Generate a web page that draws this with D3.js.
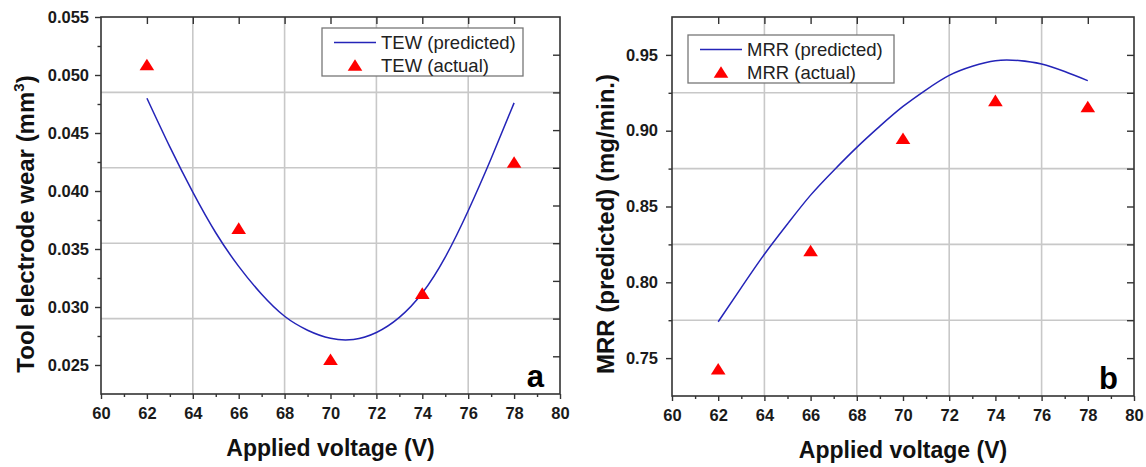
<!DOCTYPE html>
<html>
<head>
<meta charset="utf-8">
<script src="https://cdn.jsdelivr.net/npm/d3@7"></script>
<style>
  body { margin: 0; background: #fff; }
  svg { display: block; font-family: "Liberation Sans", Arial, sans-serif; }
</style>
</head>
<body>
<svg id="chart" width="1146" height="467"></svg>
<script>
// data
const voltage = [62, 66, 70, 74, 78]
const tewActual = [0.0509, 0.0368, 0.0255, 0.0312, 0.0425]
const mrrActual = [0.743, 0.821, 0.895, 0.920, 0.916]

const curveVoltage = [62, 63, 64, 65, 66, 67, 68, 69, 70, 71, 72, 73, 74, 75, 76, 77, 78]
const tewPredicted = [0.0480, 0.0438, 0.0399, 0.0364, 0.0335, 0.0311, 0.0292, 0.0280, 0.0273,
    0.0272, 0.0278, 0.0291, 0.0312, 0.0343, 0.0383, 0.0428, 0.0476]
const mrrPredicted = [0.774, 0.7965, 0.8185, 0.8385, 0.8575, 0.8738, 0.889, 0.903, 0.916,
    0.927, 0.9365, 0.9425, 0.9462, 0.9463, 0.944, 0.939, 0.933]

const xTicks = [60, 62, 64, 66, 68, 70, 72, 74, 76, 78, 80]
const tewTicks = [0.025, 0.030, 0.035, 0.040, 0.045, 0.050, 0.055]
const mrrTicks = [0.75, 0.80, 0.85, 0.90, 0.95]

const svg = d3.select('#chart')
const BLUE = '#2424b8'
const RED = '#ff0000'
const AXIS = '#333'
const GRID = '#c8c8c8'
const FONT = '"Liberation Sans", Arial, sans-serif'

// triangle marker, centred on its box
const tri = 'M0,-5.8L7.3,5.8L-7.3,5.8Z'

function drawPanel(o) {
    const g = svg.append('g')
    const x = d3.scaleLinear().domain([60, 80]).range([o.left, o.right])
    const y = d3.scaleLinear().domain(o.yDomain).range([o.bottom, o.top])
    const [lo, hi] = o.yDomain

    // grid lines (5 divisions of each axis)
    const gx = d3.range(1, 5).map(k => 60 + k * 4)
    const gy = d3.range(1, 5).map(k => lo + k * (hi - lo) / 5)
    g.selectAll('.gx').data(gx).enter().append('line')
        .attr('x1', d => x(d)).attr('x2', d => x(d))
        .attr('y1', o.top).attr('y2', o.bottom)
        .attr('stroke', GRID).attr('stroke-width', 1.6)
    g.selectAll('.gy').data(gy).enter().append('line')
        .attr('x1', o.left).attr('x2', o.right)
        .attr('y1', d => y(d)).attr('y2', d => y(d))
        .attr('stroke', GRID).attr('stroke-width', 1.6)

    // bottom axis
    const minorX = d3.range(61, 80, 2)
    const bx = g.append('g').attr('transform', 'translate(0,' + o.bottom + ')')
    bx.call(d3.axisBottom(x).tickValues(xTicks).tickSize(5).tickSizeOuter(0).tickPadding(8)
        .tickFormat(d3.format('d')))
    bx.append('g').call(d3.axisBottom(x).tickValues(minorX).tickSize(3).tickSizeOuter(0).tickFormat(''))

    // left axis
    const ly = g.append('g').attr('transform', 'translate(' + o.left + ',0)')
    ly.call(d3.axisLeft(y).tickValues(o.yTicks).tickSize(6).tickSizeOuter(0).tickPadding(o.pad)
        .tickFormat(d3.format(o.fmt)))
    ly.append('g').call(d3.axisLeft(y).tickValues(o.minor).tickSize(3.5).tickSizeOuter(0).tickFormat(''))

    // top axis, inward ticks
    g.append('g').attr('transform', 'translate(0,' + o.top + ')')
        .call(d3.axisBottom(x).tickValues(xTicks.slice(1, -1)).tickSize(7).tickSizeOuter(0).tickFormat(''))

    // right axis, inward ticks
    g.append('g').attr('transform', 'translate(' + o.right + ',0)')
        .call(d3.axisLeft(y).tickValues(d3.range(1, 10).map(k => lo + k * (hi - lo) / 10))
            .tickSize(7).tickSizeOuter(0).tickFormat(''))

    g.selectAll('.domain').remove()
    g.selectAll('.tick line').attr('stroke', AXIS).attr('stroke-width', 1.4)
    g.selectAll('g').attr('font-family', FONT).attr('font-size', 16).attr('font-weight', 'bold')
    g.selectAll('.tick text')
        .style('font-family', FONT).style('font-size', '16.5px').style('font-weight', '700')
        .style('fill', '#1a1a1a')

    // frame
    g.append('rect')
        .attr('x', o.left).attr('y', o.top)
        .attr('width', o.right - o.left).attr('height', o.bottom - o.top)
        .attr('fill', 'none').attr('stroke', AXIS).attr('stroke-width', 1.6)

    // predicted curve
    const pts = curveVoltage.map((v, i) => ({ v: v, y: o.predicted[i] }))
    g.append('path')
        .datum(pts)
        .attr('fill', 'none')
        .attr('stroke', BLUE)
        .attr('stroke-width', 1.5)
        .attr('d', d3.line().curve(d3.curveNatural)
            .x(d => x(d.v))
            .y(d => y(d.y)))

    // actual points
    g.selectAll('.pt').data(voltage.map((v, i) => ({ v: v, y: o.actual[i] })))
        .enter().append('path')
        .attr('d', tri).attr('fill', RED)
        .attr('transform', d => 'translate(' + x(d.v) + ',' + y(d.y) + ')')

    // legend
    const lg = g.append('g').attr('transform', 'translate(' + o.legend[0] + ',' + o.legend[1] + ')')
        .attr('font-weight', 'normal')
    lg.append('rect').attr('x', 0).attr('y', 0).attr('width', o.legendW).attr('height', 48)
        .attr('fill', '#fff').attr('stroke', '#777').attr('stroke-width', 1.3)
    lg.append('line').attr('x1', 12).attr('x2', 54).attr('y1', 14.5).attr('y2', 14.5)
        .attr('stroke', BLUE).attr('stroke-width', 1.5)
    lg.append('path').attr('d', tri).attr('fill', RED).attr('transform', 'translate(33,37)')
    lg.append('text').attr('x', 59).attr('y', 21).attr('font-size', 18.5).attr('fill', '#222')
        .text(o.name + ' (predicted)')
    lg.append('text').attr('x', 59).attr('y', 43.5).attr('font-size', 18.5).attr('fill', '#222')
        .text(o.name + ' (actual)')

    // axis titles
    g.append('text')
        .attr('x', (o.left + o.right) / 2).attr('y', o.bottom + 62)
        .attr('text-anchor', 'middle').attr('font-size', 23).attr('font-weight', 'bold').attr('fill', '#111')
        .text('Applied voltage (V)')
    const yt = g.append('text')
        .attr('transform', 'translate(' + o.yTitleX + ',224) rotate(-90)')
        .attr('text-anchor', 'middle').attr('font-size', 24).attr('font-weight', 'bold').attr('fill', '#111')
    o.yTitle(yt)

    // panel letter
    g.append('text')
        .attr('x', o.right - 16).attr('y', o.bottom - 7)
        .attr('text-anchor', 'end').attr('font-size', 31).attr('font-weight', 'bold').attr('fill', '#000')
        .text(o.letter)
}

drawPanel({
    left: 101, right: 560, top: 17, bottom: 394,
    yDomain: [0.0225, 0.055],
    yTicks: tewTicks,
    minor: [0.0275, 0.0325, 0.0375, 0.0425, 0.0475, 0.0525],
    fmt: '.3f', pad: 6,
    predicted: tewPredicted, actual: tewActual,
    name: 'TEW', legend: [322, 28], legendW: 201,
    yTitleX: 34,
    yTitle: t => {
        t.append('tspan').text('Tool electrode wear (mm')
        t.append('tspan').attr('dy', -10).attr('font-size', 15).text('3')
        t.append('tspan').attr('dy', 10).text(')')
    },
    letter: 'a'
})

drawPanel({
    left: 672, right: 1134, top: 17, bottom: 396,
    yDomain: [0.725, 0.975],
    yTicks: mrrTicks,
    minor: [0.775, 0.825, 0.875, 0.925],
    fmt: '.2f', pad: 8,
    predicted: mrrPredicted, actual: mrrActual,
    name: 'MRR', legend: [688, 35], legendW: 206,
    yTitleX: 614,
    yTitle: t => t.text('MRR (predicted) (mg/min.)'),
    letter: 'b'
})
</script>
</body>
</html>
